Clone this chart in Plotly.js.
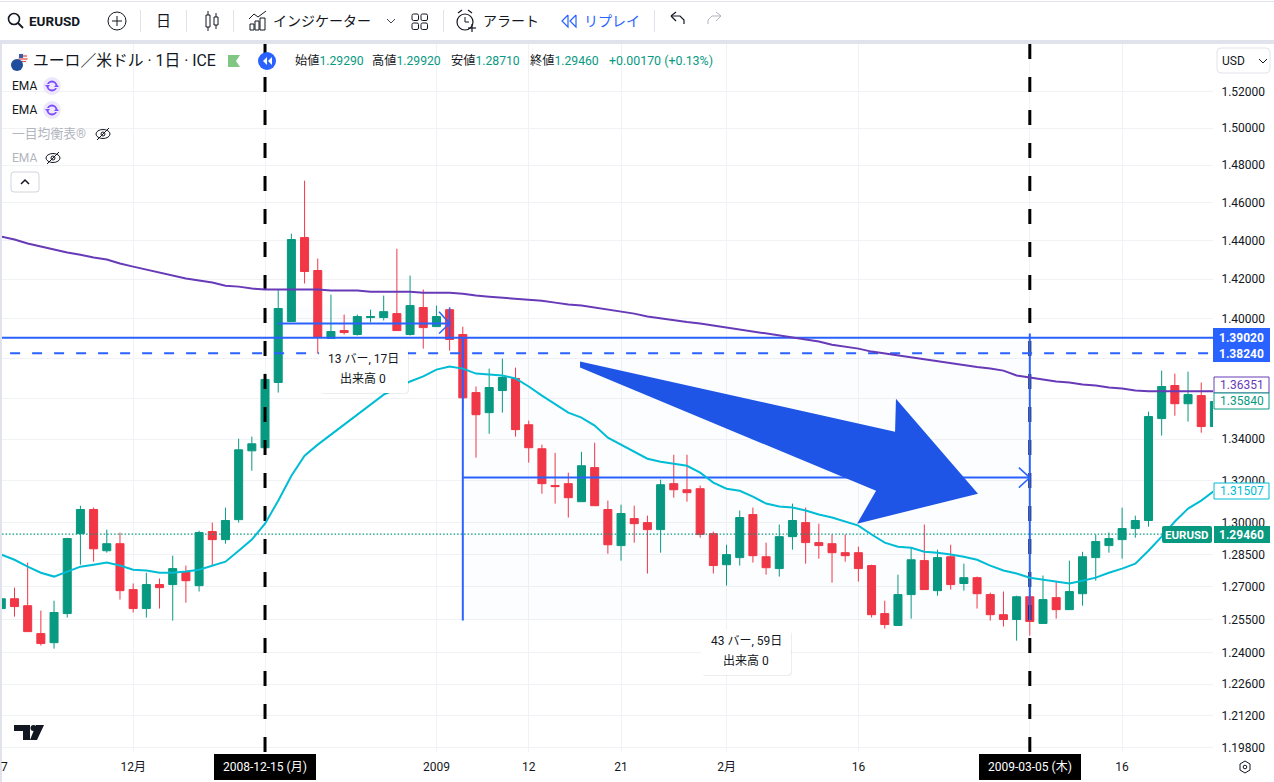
<!DOCTYPE html>
<html><head><meta charset="utf-8">
<script src="https://cdn.plot.ly/plotly-3.0.1.min.js"></script>
<style>html,body{margin:0;padding:0;background:#fff}#c{width:1274px;height:782px}</style>
</head><body><div id="c"></div>
<script>
const opens=[1.2601,1.2646,1.2614,1.2487,1.2446,1.2578,1.2948,1.3062,1.2868,1.2901,
1.2688,1.2601,1.2711,1.2711,1.2771,1.2706,1.2958,1.2920,1.3014,1.3343,
1.3358,1.3678,1.3984,1.4416,1.4245,1.3898,1.3938,1.3918,1.4004,1.4004,
1.4024,1.3918,1.4055,1.3958,1.4044,1.3918,1.3628,1.3529,1.3638,1.3698,
1.3470,1.3353,1.3176,1.3185,1.3099,1.3262,1.3062,1.2892,1.3019,1.3000,
1.2967,1.3185,1.3156,1.3161,1.2948,1.2803,1.2836,1.3038,1.2840,1.2785,
1.2934,1.3000,1.2906,1.2901,1.2859,1.2859,1.2799,1.2578,1.2524,1.2665,
1.2822,1.2683,1.2840,1.2716,1.2743,1.2665,1.2573,1.2551,1.2655,1.2533,
1.2651,1.2596,1.2669,1.2836,1.2892,1.2920,1.2972,1.3010,1.3500,1.3663,
1.3573,1.3613,1.3461];
const closes=[1.2646,1.2610,1.2496,1.2442,1.2583,1.2925,1.3062,1.2877,1.2901,1.2683,
1.2601,1.2711,1.2697,1.2785,1.2729,1.2953,1.2920,1.3010,1.3348,1.3377,
1.3693,1.4050,1.4406,1.4240,1.3903,1.3933,1.3928,1.4009,1.4009,1.4034,
1.3938,1.4065,1.3953,1.4009,1.3893,1.3602,1.3519,1.3653,1.3703,1.3446,
1.3358,1.3185,1.3171,1.3118,1.3271,1.3080,1.2896,1.3043,1.2995,1.2967,
1.3180,1.3156,1.3142,1.2944,1.2799,1.2850,1.3024,1.2845,1.2789,1.2934,
1.3010,1.2906,1.2892,1.2859,1.2845,1.2785,1.2573,1.2528,1.2665,1.2826,
1.2688,1.2836,1.2711,1.2743,1.2669,1.2573,1.2551,1.2655,1.2542,1.2642,
1.2596,1.2679,1.2840,1.2911,1.2925,1.2972,1.3010,1.3510,1.3658,1.3573,
1.3618,1.3461,1.3584];
const highs=[1.2655,1.2697,1.2813,1.2592,1.2637,1.2929,1.3080,1.3071,1.2967,1.2953,
1.2716,1.2766,1.2739,1.2845,1.2799,1.2962,1.3000,1.3071,1.3402,1.3412,
1.3722,1.4147,1.4437,1.4717,1.4307,1.4121,1.4019,1.4019,1.4044,1.4116,
1.4358,1.4219,1.4147,1.4065,1.4055,1.3958,1.3658,1.3747,1.3797,1.3752,
1.3490,1.3373,1.3333,1.3238,1.3338,1.3382,1.3104,1.3085,1.3080,1.3033,
1.3204,1.3324,1.3324,1.3176,1.2958,1.2896,1.3057,1.3071,1.2906,1.2991,
1.3090,1.3071,1.2995,1.2944,1.2944,1.2887,1.2803,1.2637,1.2757,1.2882,
1.2991,1.2873,1.2896,1.2808,1.2748,1.2674,1.2679,1.2660,1.2665,1.2753,
1.2725,1.2822,1.2863,1.2944,1.2953,1.3071,1.3033,1.3534,1.3737,1.3722,
1.3732,1.3678,1.3598];
const lows=[1.2592,1.2564,1.2496,1.2433,1.2419,1.2560,1.2803,1.2817,1.2859,1.2642,
1.2583,1.2560,1.2601,1.2546,1.2628,1.2679,1.2799,1.2901,1.3000,1.3247,
1.3329,1.3628,1.3984,1.4178,1.3822,1.3898,1.3918,1.3913,1.3979,1.3989,
1.3938,1.3913,1.3847,1.3958,1.3837,1.3544,1.3310,1.3426,1.3529,1.3412,
1.3286,1.3137,1.3090,1.3024,1.3099,1.3080,1.2854,1.2822,1.2906,1.2762,
1.2859,1.3118,1.3099,1.2929,1.2762,1.2706,1.2799,1.2813,1.2757,1.2748,
1.2873,1.2808,1.2831,1.2720,1.2817,1.2725,1.2560,1.2510,1.2524,1.2555,
1.2688,1.2660,1.2688,1.2683,1.2601,1.2546,1.2519,1.2455,1.2478,1.2533,
1.2555,1.2596,1.2614,1.2729,1.2859,1.2831,1.2929,1.2981,1.3417,1.3514,
1.3485,1.3431,1.3461];
const emaFast=[1.2850,1.2826,1.2794,1.2766,1.2748,1.2771,1.2794,1.2803,1.2813,1.2799,
1.2780,1.2776,1.2766,1.2766,1.2771,1.2780,1.2799,1.2817,1.2868,1.2920,
1.2995,1.3104,1.3223,1.3319,1.3373,1.3421,1.3470,1.3519,1.3568,1.3618,
1.3648,1.3683,1.3708,1.3742,1.3757,1.3747,1.3722,1.3717,1.3713,1.3698,
1.3658,1.3613,1.3573,1.3529,1.3505,1.3466,1.3407,1.3373,1.3338,1.3305,
1.3290,1.3281,1.3271,1.3238,1.3190,1.3161,1.3151,1.3123,1.3090,1.3076,
1.3071,1.3057,1.3038,1.3024,1.3005,1.2986,1.2944,1.2906,1.2887,1.2882,
1.2863,1.2859,1.2850,1.2840,1.2826,1.2799,1.2776,1.2762,1.2743,1.2734,
1.2725,1.2716,1.2729,1.2743,1.2766,1.2785,1.2808,1.2868,1.2934,1.3005,
1.3066,1.3104,1.3151];
const emaSlow=[1.4421,1.4406,1.4385,1.4369,1.4353,1.4338,1.4327,1.4312,1.4302,1.4281,
1.4265,1.4250,1.4234,1.4219,1.4204,1.4193,1.4183,1.4167,1.4162,1.4152,
1.4147,1.4147,1.4147,1.4147,1.4147,1.4142,1.4142,1.4142,1.4136,1.4136,
1.4136,1.4136,1.4131,1.4131,1.4131,1.4126,1.4116,1.4110,1.4105,1.4100,
1.4095,1.4090,1.4080,1.4070,1.4065,1.4055,1.4044,1.4034,1.4024,1.4009,
1.3999,1.3989,1.3981,1.3974,1.3964,1.3953,1.3943,1.3933,1.3923,1.3913,
1.3903,1.3893,1.3883,1.3867,1.3857,1.3847,1.3832,1.3822,1.3812,1.3802,
1.3792,1.3782,1.3772,1.3762,1.3755,1.3747,1.3737,1.3713,1.3703,1.3693,
1.3683,1.3678,1.3668,1.3663,1.3653,1.3648,1.3638,1.3635,1.3635,1.3635,
1.3635,1.3635,1.3635];
const yTickVals=[1.52,1.50,1.48,1.46,1.44,1.42,1.40,1.38,1.36,1.34,1.32,1.30,1.285,1.27,1.255,1.24,1.226,1.212,1.198];
const yTickText=['1.52000','1.50000','1.48000','1.46000','1.44000','1.42000','1.40000','','','1.34000','1.32000','1.30000','1.28500','1.27000','1.25500','1.24000','1.22600','1.21200','1.19800'];
const xTickVals=[0,10,20,33,40,47,55,65,78,85];
const xTickText=['7','12月','','2009','12','21','2月','16','','16'];
const levelSolid=1.3902, levelDash=1.3824, lastPrice=1.2946;
const markerBars=[20,78];
const rangeA={x0:21,x1:34,top:1.4055,bottom:1.3902,mid:1.3974};
const rangeB={x0:35,x1:78,top:1.3902,bottom:1.2546,mid:1.3214};
const arrowX=[43.89,67.78,67.85,74.07,64.9,66.34,43.89];
const arrowY=[1.3782,1.3436,1.3598,1.3137,1.2995,1.3151,1.3752];

const idx=opens.map((_,i)=>i);
const FONT='Roboto, "Noto Sans CJK JP", sans-serif';
const BLUE='#2962ff',GREEN='#089981',RED='#f23645',CYAN='#00bcd4',PURPLE='#673ab7',INK='#131722',GREY='#b2b5be';
const XL=2,XR=1213,YT=44,YB=752;
const yTop=1.5465,yBottom=1.1962;
const px=x=>(x-XL)/(XR-XL), py=y=>(YB-y)/(YB-YT);
const xMin=idx[0]-1, xMax=idx[idx.length-1]+1;
function ln(x,y,color,width,dash){return {type:'scatter',mode:'lines',x,y,hoverinfo:'skip',showlegend:false,line:{color,width,dash:dash||'solid'}};}
function area(x,y,color){return {type:'scatter',mode:'lines',x,y,fill:'toself',fillcolor:color,line:{width:0,color:color},hoverinfo:'skip',showlegend:false};}
const SHADE='rgba(41,98,255,0.015)';
const boxA=area([rangeA.x0,rangeA.x1,rangeA.x1,rangeA.x0,rangeA.x0],[rangeA.top,rangeA.top,rangeA.bottom,rangeA.bottom,rangeA.top],SHADE);
const boxB=area([rangeB.x0,rangeB.x1,rangeB.x1,rangeB.x0,rangeB.x0],[rangeB.top,rangeB.top,rangeB.bottom,rangeB.bottom,rangeB.top],SHADE);
const traces=[boxA,boxB];
markerBars.forEach(b=>traces.push(ln([b,b],[yTop,yBottom],'#000000',3,'15px,18px')));
traces.push(ln([xMin,xMax],[lastPrice,lastPrice],GREEN,1.3,'1.5px,2px'));
traces.push(ln([xMin,xMax],[levelSolid,levelSolid],BLUE,2));
traces.push(ln([xMin,xMax],[levelDash,levelDash],BLUE,2,'10px,12px'));
traces.push(ln([rangeA.x0,rangeA.x1],[rangeA.mid,rangeA.mid],BLUE,2));
traces.push(ln([rangeA.x1,rangeA.x1],[rangeA.top,rangeA.bottom],BLUE,1.5));
traces.push(ln([rangeA.x1-0.8,rangeA.x1,rangeA.x1-0.8],[1.4034,rangeA.mid,1.3923],BLUE,1.5));
traces.push(ln([rangeB.x0,rangeB.x1],[rangeB.mid,rangeB.mid],BLUE,2));
traces.push(ln([rangeB.x0,rangeB.x0],[rangeB.top,rangeB.bottom],BLUE,2));
traces.push(ln([rangeB.x1,rangeB.x1],[1.3923,rangeB.bottom],BLUE,2));
traces.push(ln([rangeB.x1-0.83,rangeB.x1,rangeB.x1-0.83],[1.3262,rangeB.mid,1.3166],BLUE,1.5));
traces.push(area(arrowX,arrowY,'#1f55e6'));
traces.push(ln(idx,emaSlow,PURPLE,2));
traces.push(ln(idx,emaFast,CYAN,2));
traces.push({type:'candlestick',x:idx,open:opens,high:highs,low:lows,close:closes,whiskerwidth:0,hoverinfo:'skip',showlegend:false,
  increasing:{line:{color:GREEN,width:1},fillcolor:GREEN},decreasing:{line:{color:RED,width:1},fillcolor:RED}});

const shapes=[],ann=[];
function rect(x0,y0,x1,y1,fill,stroke,w){shapes.push({type:'rect',xref:'paper',yref:'paper',x0:px(x0),x1:px(x1),y0:py(y0),y1:py(y1),fillcolor:fill||'rgba(0,0,0,0)',line:{color:stroke||'rgba(0,0,0,0)',width:w===undefined?(stroke?1:0):w},layer:'above'});}
function ell(cx,cy,rx,ry,fill,stroke,w){shapes.push({type:'circle',xref:'paper',yref:'paper',x0:px(cx-rx),x1:px(cx+rx),y0:py(cy-ry),y1:py(cy+ry),fillcolor:fill||'rgba(0,0,0,0)',line:{color:stroke||'rgba(0,0,0,0)',width:w===undefined?(stroke?1:0):w},layer:'above'});}
function circ(cx,cy,r,fill,stroke,w){ell(cx,cy,r,r,fill,stroke,w);}
function poly(pts,fill,stroke,w,closed){const d=pts.map((p,i)=>(i?'L':'M')+px(p[0])+','+py(p[1])).join(' ')+(closed?' Z':'');shapes.push({type:'path',xref:'paper',yref:'paper',path:d,fillcolor:fill||'rgba(0,0,0,0)',line:{color:stroke||'rgba(0,0,0,0)',width:w===undefined?(stroke?1:0):w},layer:'above'});}
function rrect(x0,y0,x1,y1,r,fill,stroke){const p=(x,y)=>px(x)+','+py(y);const d='M'+p(x0+r,y0)+' L'+p(x1-r,y0)+' Q'+p(x1,y0)+' '+p(x1,y0+r)+' L'+p(x1,y1-r)+' Q'+p(x1,y1)+' '+p(x1-r,y1)+' L'+p(x0+r,y1)+' Q'+p(x0,y1)+' '+p(x0,y1-r)+' L'+p(x0,y0+r)+' Q'+p(x0,y0)+' '+p(x0+r,y0)+' Z';shapes.push({type:'path',xref:'paper',yref:'paper',path:d,fillcolor:fill,line:{color:stroke||'rgba(0,0,0,0)',width:stroke?1:0},layer:'above'});}
function txt(x,y,t,o){o=o||{};ann.push({xref:'paper',yref:'paper',x:px(x),y:py(y),text:t,showarrow:false,xanchor:o.a||'left',yanchor:'middle',borderpad:0,align:o.a||'left',font:{family:FONT,size:o.s||12,color:o.c||INK}});}

// frame
rect(0,1,1274,2,'#e0e3eb');
rect(0,40,1274,44,'#e0e3eb');
rect(0,44,2,782,'#e0e3eb');
// toolbar
circ(14,19,5.5,null,INK,1.6); poly([[18,23],[23,28]],null,INK,1.8);
txt(28,21,'<b>EURUSD</b>',{s:13.5});
circ(117,21,9,null,INK,1); poly([[112,21],[122,21]],null,INK,1); poly([[117,16],[117,26]],null,INK,1);
[140,186,233,443,654].forEach(x=>rect(x,10,x+1,32,'#e0e3eb'));
txt(163,21,'日',{a:'center',s:15});
rect(206,15,210,27,null,INK,1); poly([[208,11],[208,15]],null,INK,1); poly([[208,27],[208,31]],null,INK,1);
rect(214,17,218,25,null,INK,1); poly([[216,13],[216,17]],null,INK,1); poly([[216,25],[216,29]],null,INK,1);
rect(250,24,254,30,null,INK,1); rect(255,21,259,30,null,INK,1); rect(260,18,265,30,null,INK,1);
poly([[249,19],[254,14],[258,17],[266,11]],null,INK,1);
txt(272,21,'インジケーター',{s:14});
poly([[387,19],[391,23],[395,19]],null,'#434651',1);
[[412,14],[421,14],[412,23],[421,23]].forEach(p=>rrect(p[0],p[1],p[0]+6.5,p[1]+6.5,1.5,'rgba(0,0,0,0)',INK));
circ(465,22,8,null,INK,1.2); poly([[465,17],[465,22],[469,22]],null,INK,1);
poly([[458,13],[462,10]],null,INK,1.2); poly([[472,13],[468,10]],null,INK,1.2);
poly([[472,24],[472,32]],null,INK,1.2); poly([[468,28],[476,28]],null,INK,1.2);
txt(482,21,'アラート',{s:14});
poly([[568,15],[562,21],[568,27],[568,15]],null,BLUE,1.2); poly([[576,15],[570,21],[576,27],[576,15]],null,BLUE,1.2);
txt(583,21,'リプレイ',{s:14,c:BLUE});
poly([[671,16],[676,12]],null,INK,1.2); poly([[671,16],[676,21]],null,INK,1.2); poly([[671,16],[680,16],[684,20],[684,24]],null,INK,1.2);
poly([[721,16],[716,12]],null,GREY,1); poly([[721,16],[716,21]],null,GREY,1); poly([[721,16],[712,16],[708,20],[708,24]],null,GREY,1);
// legend header
circ(23,58,5,'#f5f5f5');
poly([[19,56],[27,56]],null,'#e04b4b',1.2); poly([[18.5,59],[27.5,59]],null,'#e04b4b',1.2); poly([[20,61.5],[26,61.5]],null,'#e04b4b',1);
rect(19,54,23,58,'#3c5aa6');
circ(17,65,6,'#1f4e9c');
txt(32,61,'ユーロ／米ドル · 1日 · ICE',{s:15.8});
poly([[228,55],[240,55],[236,61],[240,67],[228,67]],'#81c784',null,0,true);
circ(267,61,9,BLUE);
poly([[267,57],[263,61],[267,65]],'#ffffff',null,0,true); poly([[272,57],[268,61],[272,65]],'#ffffff',null,0,true);
[['始値','1.29290',294],['高値','1.29920',371],['安値','1.28710',450],['終値','1.29460',529]].forEach(r=>{
  txt(r[2],61,r[0]+'<span style="color:'+GREEN+'">'+r[1]+'</span>',{s:12.2});});
txt(608,61,'+0.00170 (+0.13%)',{s:12.4,c:GREEN});
function sync(x,y){
  circ(x,y,9,'#ede7fb'); circ(x,y,4.5,null,'#7c4dff',1.8);
  rect(x-6,y-2,x-2,y+1,'#ede7fb'); rect(x+2,y-1,x+6,y+2,'#ede7fb');
  poly([[x-7,y-1],[x-2,y-1],[x-4.5,y+2]],'#7c4dff',null,0,true);
  poly([[x+7,y+1],[x+2,y+1],[x+4.5,y-2]],'#7c4dff',null,0,true);
}
txt(10.5,86,'EMA',{s:12}); sync(52,86);
txt(10.5,110,'EMA',{s:12}); sync(52,110);
txt(10.5,133,'一目均衡表®',{s:12.8,c:GREY});
function eye(x,y){ell(x,y,7,4.5,null,INK,1); circ(x,y,2,null,INK,1); poly([[x-6,y+6],[x+6,y-6]],null,INK,1);}
eye(103,134);
txt(10.5,158,'EMA',{s:12,c:GREY}); eye(53,158);
rrect(11,172,39,192,3,'#ffffff','#d1d4dc'); poly([[21,184],[25,180],[29,184]],null,INK,1.5);
// right axis tags
rrect(1217,48,1270,73,4,'#ffffff','#e0e3eb');
txt(1221,61,'USD',{s:12}); poly([[1259,59],[1263,63],[1267,59]],null,INK,1);
rect(1213,328,1270,362,BLUE);
txt(1242,338,'<b>1.39020</b>',{a:'center',c:'#fff'});
txt(1242,354,'<b>1.38240</b>',{a:'center',c:'#fff'});
rect(1214,377,1269,393,'#ffffff',PURPLE); txt(1242,385,'1.36351',{a:'center',c:PURPLE});
rect(1214,393,1269,409,'#ffffff',GREEN); txt(1242,401,'1.35840',{a:'center',c:GREEN});
rect(1214,483,1269,499,'#ffffff',CYAN); txt(1242,491,'1.31507',{a:'center',c:CYAN});
rrect(1162,526,1212,543,2,GREEN); txt(1187,535,'<b>EURUSD</b>',{a:'center',c:'#fff',s:11.5});
rect(1214,526,1270,543,GREEN); txt(1242,535,'<b>1.29460</b>',{a:'center',c:'#fff'});
// tooltips
rrect(320,349,409,394,4,'rgba(0,0,0,0.07)');
rrect(319,348,408,393,4,'#ffffff');
txt(363,359,'13 バー, 17日',{a:'center'}); txt(363,379,'出来高 0',{a:'center'});
rrect(702,631,792,676,4,'rgba(0,0,0,0.07)');
rrect(701,630,791,675,4,'#ffffff');
txt(746,641,'43 バー, 59日',{a:'center'}); txt(746,661,'出来高 0',{a:'center'});
// date tags
rect(214,754,316,780,'#000000'); txt(265,767,'2008-12-15 (月)',{a:'center',c:'#fff'});
rect(979,754,1081,780,'#000000'); txt(1030,767,'2009-03-05 (木)',{a:'center',c:'#fff'});
txt(0,767,'7');
// logo and settings
poly([[14,725],[30,725],[30,740],[23,740],[23,731],[14,731]],INK,null,0,true);
circ(33.5,728,3,INK);
poly([[37,740],[44,725],[36,725],[30,740]],INK,null,0,true);
poly([[1245,761],[1250,764],[1250,770],[1245,773],[1240,770],[1240,764]],null,INK,1,true); circ(1245,767,1.8,null,INK,1);

const layout={width:1274,height:782,margin:{l:XL,r:1274-XR,t:YT,b:782-YB,pad:0},paper_bgcolor:'#ffffff',plot_bgcolor:'#ffffff',showlegend:false,dragmode:false,
 boxgap:0.2,boxgroupgap:0.24,shapes,annotations:ann,
 xaxis:{type:'linear',range:[(XL-1.3)/13.186,(XR-1.3)/13.186],rangeslider:{visible:false},tickmode:'array',tickvals:xTickVals,ticktext:xTickText,showgrid:true,gridcolor:'#f1f2f5',gridwidth:1,zeroline:false,showline:false,ticks:'outside',ticklen:4,tickcolor:'rgba(0,0,0,0)',tickfont:{family:FONT,size:12,color:INK},tickangle:0},
 yaxis:{type:'log',side:'right',range:[Math.log10(yBottom),Math.log10(yTop)],tickmode:'array',tickvals:yTickVals,ticktext:yTickText,showgrid:true,gridcolor:'#f1f2f5',gridwidth:1,zeroline:false,showline:false,ticks:'outside',ticklen:5,tickcolor:'rgba(0,0,0,0)',tickfont:{family:FONT,size:12,color:INK}}
};
Plotly.newPlot('c',traces,layout,{staticPlot:true,displayModeBar:false});
</script></body></html>
